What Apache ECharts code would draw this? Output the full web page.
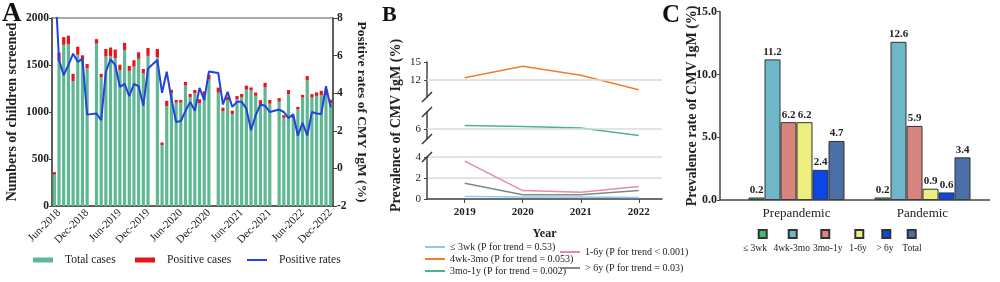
<!DOCTYPE html>
<html>
<head>
<meta charset="utf-8">
<script src="https://cdn.jsdelivr.net/npm/echarts@6/dist/echarts.min.js"></script>
<style>
  html, body { margin: 0; padding: 0; background: #fff; }
  #chart { width: 1000px; height: 282px; }
</style>
</head>
<body>
<div id="chart"></div>
<script>
  // ---- panel A: monthly screening, May-2018 .. Dec-2022 ----
  const monthNames = ['Jan', 'Feb', 'Mar', 'Apr', 'May', 'Jun', 'Jul', 'Aug', 'Sep', 'Oct', 'Nov', 'Dec'];
  const screenYears = [2018, 2019, 2020, 2021, 2022];
  const total2018 = [335, 1546, 1715, 1722, 1328, 1610, 1553, 1465];
  const total2019 = [1728, 1370, 1590, 1593, 1573, 1447, 1660, 1437, 1483, 1566, 1410, 1597];
  const total2020 = [1582, 649, 1064, 1203, 1100, 1100, 1282, 1158, 1199, 1095, 1180, 1345];
  const total2021 = [1206, 1011, 1128, 979, 1135, 1157, 1238, 1230, 1172, 1086, 1262, 1088];
  const total2022 = [1110, 938, 1190, 934, 1027, 1154, 1336, 1154, 1172, 1182, 1178, 1095];
  const pos2018 = [25, 85, 82, 90, 78, 85, 50, 45];
  const pos2019 = [47, 35, 80, 93, 92, 56, 75, 53, 68, 69, 48, 84];
  const pos2020 = [88, 27, 55, 32, 27, 27, 38, 34, 35, 40, 40, 50];
  const pos2021 = [53, 35, 35, 35, 35, 35, 42, 31, 35, 40, 48, 40];
  const pos2022 = [38, 28, 43, 22, 28, 28, 46, 36, 36, 43, 40, 36];
  const rate2018 = [10.6, 5.76, 4.96, 5.49, 6.1, 5.67, 5.83, 2.86];
  const rate2019 = [2.92, 2.56, 5.14, 5.8, 5.49, 4.34, 4.5, 3.84, 4.5, 4.37, 3.33, 5.31];
  const rate2020 = [5.76, 4.02, 5.14, 3.7, 2.47, 2.52, 3.05, 3.54, 3.06, 4.28, 3.63, 5.15];
  const rate2021 = [5.08, 3.4, 4.07, 3.27, 3.54, 3.54, 3.18, 2.03, 2.83, 3.4, 3.33, 3.0];
  const rate2022 = [3.13, 3.0, 2.68, 2.88, 1.74, 2.42, 1.75, 3.0, 2.92, 2.9, 4.37, 3.25];

  const totalByYear = [total2018, total2019, total2020, total2021, total2022];
  const posByYear = [pos2018, pos2019, pos2020, pos2021, pos2022];
  const rateByYear = [rate2018, rate2019, rate2020, rate2021, rate2022];

  // ---- panel B: prevalence by year ----
  const bYears = [2019, 2020, 2021, 2022];
  const bUnder3wk = [0.25, 0.2, 0.2, 0.15];
  const b4wk3mo = [12.4, 14.3, 12.8, 10.4];
  const b3mo1y = [6.35, 6.25, 6.1, 5.35];
  const b1to6y = [3.6, 0.8, 0.65, 1.2];
  const bOver6y = [1.5, 0.4, 0.4, 0.8];

  // ---- panel C: prepandemic vs pandemic ----
  const periods = ['Prepandemic', 'Pandemic'];
  const ageGroups = ['≤ 3wk', '4wk-3mo', '3mo-1y', '1-6y', '> 6y', 'Total'];
  const cValues = [
    [0.2, 0.2],
    [11.2, 12.6],
    [6.2, 5.9],
    [6.2, 0.9],
    [2.4, 0.6],
    [4.7, 3.4]
  ];
  const cColors = ['#38c46b', '#6db7c9', '#d9857f', '#eeee7e', '#0c46e6', '#4b6fa6'];

  // build the A category axis, with an empty slot between years
  const categories = [], totalCases = [], positiveCases = [], positiveRates = [];
  screenYears.forEach((y, k) => {
    if (k > 0) {
      categories.push('gap-' + y);
      totalCases.push(null);
      positiveCases.push(null);
      positiveRates.push(null);
    }
    const start = 12 - totalByYear[k].length;
    for (let m = start; m < 12; m++) categories.push(monthNames[m] + '-' + y);
    totalCases.push(...totalByYear[k]);
    positiveCases.push(...posByYear[k]);
    positiveRates.push(...rateByYear[k]);
  });
  const showMonth = (i, v) => v.startsWith('Jun') || v.startsWith('Dec');
  const plain = v => String(v);

  const ink = '#222';
  const axisDark = { lineStyle: { color: '#444', width: 1.5 } };
  const pair = vals => bYears.map((y, i) => [y, vals[i]]);

  const bNames = [
    '≤ 3wk (P for trend = 0.53)',
    '4wk-3mo (P for trend = 0.053)',
    '3mo-1y (P for trend = 0.002)',
    '1-6y (P for trend < 0.001)',
    '> 6y (P for trend = 0.03)'
  ];
  const bColors = ['#8fc6ee', '#f07f2c', '#4fb28f', '#e98aa7', '#7d8a8a'];
  const bLegendPos = [[425, 242], [425, 254], [425, 266], [560, 247], [560, 263]];
  const cLegendX = [761.7, 791.7, 824.3, 858.3, 885.3, 910.7];
  const cLabelX = [755, 791.7, 827.7, 858, 885, 912];

  const chart = echarts.init(document.getElementById('chart'));

  const bLineBase = {
    type: 'line',
    symbol: 'none',
    lineStyle: { width: 1.5 }
  };

  chart.setOption({
    animation: false,
    textStyle: { fontFamily: 'Liberation Serif' },
    title: [
      { text: 'A', left: 2, top: 1, padding: 0, textStyle: { fontSize: 27, fontWeight: 'bold', color: '#111' } },
      { text: 'B', left: 382, top: 4, padding: 0, textStyle: { fontSize: 22, fontWeight: 'bold', color: '#111' } },
      { text: 'C', left: 662, top: 3, padding: 0, textStyle: { fontSize: 25, fontWeight: 'bold', color: '#111' } }
    ],
    legend: [
      { data: [{ name: 'Total cases', icon: 'rect' }], left: 33, top: 254, padding: 0, itemWidth: 20, itemHeight: 5,
        textStyle: { fontSize: 11.5, color: ink, padding: [0, 0, 0, 7] } },
      { data: [{ name: 'Positive cases', icon: 'rect' }], left: 135, top: 254, padding: 0, itemWidth: 20, itemHeight: 5,
        textStyle: { fontSize: 11.5, color: ink, padding: [0, 0, 0, 7] } },
      { data: [{ name: 'Positive rates', icon: 'rect' }], left: 247, top: 254, padding: 0, itemWidth: 20, itemHeight: 2,
        textStyle: { fontSize: 11.5, color: ink, padding: [0, 0, 0, 7] } },
      ...bNames.map((n, i) => ({
        data: [{ name: n, icon: 'rect' }], left: bLegendPos[i][0], top: bLegendPos[i][1], padding: 0,
        itemWidth: 20, itemHeight: 2, textStyle: { fontSize: 10, color: ink }
      })),
      ...ageGroups.map((n, i) => ({
        data: [{ name: n, icon: 'rect' }], left: cLegendX[i] - 4, top: 229, padding: 0,
        itemWidth: 8, itemHeight: 8, formatter: () => ''
      }))
    ],
    grid: [
      { left: 52, top: 18, width: 281, height: 188, show: true, borderColor: '#555', borderWidth: 1 },
      { left: 427, top: 62, width: 235, height: 35 },
      { left: 427, top: 112, width: 235, height: 27 },
      { left: 427, top: 157, width: 235, height: 42 },
      { left: 733.5, top: 11.7, width: 252, height: 188.3 }
    ],
    xAxis: [
      {
        type: 'category', gridIndex: 0, data: categories,
        axisLine: axisDark,
        axisTick: { interval: showMonth, length: 3, lineStyle: { color: '#444' } },
        axisLabel: { interval: showMonth, rotate: 45, fontSize: 11, color: ink, margin: 5 }
      },
      { type: 'value', gridIndex: 1, min: 2018.35, max: 2022.4, show: false },
      { type: 'value', gridIndex: 2, min: 2018.35, max: 2022.4, show: false },
      {
        type: 'value', gridIndex: 3, min: 2018.35, max: 2022.4,
        name: 'Year', nameLocation: 'middle', nameGap: 29,
        nameTextStyle: { fontSize: 12, fontWeight: 'bold', color: ink },
        axisLine: axisDark,
        axisTick: { customValues: bYears, length: 4, lineStyle: { color: '#444' } },
        axisLabel: { customValues: bYears, formatter: plain, fontSize: 11, fontWeight: 'bold', color: ink, margin: 8 },
        splitLine: { show: false }
      },
      {
        type: 'category', gridIndex: 4, data: periods,
        axisLine: { show: false },
        axisTick: { show: false },
        axisLabel: { fontSize: 13, color: ink, margin: 7 }
      }
    ],
    yAxis: [
      {
        type: 'value', gridIndex: 0, min: 0, max: 2000, interval: 500,
        name: 'Numbers of children screened', nameLocation: 'middle', nameGap: 33,
        nameTextStyle: { fontSize: 14, fontWeight: 'bold', color: ink },
        axisLine: { show: true, lineStyle: { color: '#444', width: 1.5 } },
        axisTick: { show: true, length: 3, lineStyle: { color: '#444' } },
        axisLabel: { formatter: plain, fontSize: 11.5, fontWeight: 'bold', color: ink, margin: 3 },
        splitLine: { show: false }
      },
      {
        type: 'value', gridIndex: 0, position: 'right', min: -2, max: 8, interval: 2,
        name: 'Positive rates of CMY IgM (%)', nameLocation: 'middle', nameGap: 21, nameRotate: -90,
        nameTextStyle: { fontSize: 13.5, fontWeight: 'bold', color: ink },
        axisLine: { show: true, lineStyle: { color: '#444', width: 1.5 } },
        axisTick: { show: true, length: 4, lineStyle: { color: '#444' } },
        axisLabel: { fontSize: 11.5, fontWeight: 'bold', color: ink, margin: 4 },
        splitLine: { show: false }
      },
      {
        type: 'value', gridIndex: 1, min: 9.2, max: 15,
        axisLine: axisDark,
        axisTick: { customValues: [12, 15], length: 3, lineStyle: { color: '#444' } },
        axisLabel: { customValues: [12, 15], fontSize: 11, color: ink, margin: 6 },
        splitLine: { show: false }
      },
      {
        type: 'value', gridIndex: 2, min: 5, max: 7.7,
        name: 'Prevalence of CMV IgM (%)', nameLocation: 'middle', nameGap: 24,
        nameTextStyle: { fontSize: 14, fontWeight: 'bold', color: ink },
        axisLine: axisDark,
        axisTick: { customValues: [6], length: 3, lineStyle: { color: '#444' } },
        axisLabel: { customValues: [6], fontSize: 11, color: ink, margin: 6 },
        splitLine: { show: false }
      },
      {
        type: 'value', gridIndex: 3, min: 0, max: 4, interval: 2,
        axisLine: axisDark,
        axisTick: { show: true, length: 3, lineStyle: { color: '#444' } },
        axisLabel: { fontSize: 11, color: ink, margin: 6 },
        splitLine: { show: true, lineStyle: { color: '#d6dbdb', width: 1.5 } }
      },
      {
        type: 'value', gridIndex: 4, min: 0, max: 15, interval: 5, offset: 13.5,
        name: 'Prevalence rate of CMV IgM (%)', nameLocation: 'middle', nameGap: 21, nameMoveOverlap: false,
        nameTextStyle: { fontSize: 14, fontWeight: 'bold', color: ink },
        axisLine: { show: true, lineStyle: { color: '#444', width: 1.5 } },
        axisTick: { show: true, length: 3, lineStyle: { color: '#444' } },
        axisLabel: { fontSize: 12, fontWeight: 'bold', color: ink, margin: 3, formatter: v => v.toFixed(1) },
        splitLine: { show: false }
      }
    ],
    series: [
      {
        name: 'Total cases', type: 'bar', stack: 'a', xAxisIndex: 0, yAxisIndex: 0,
        data: totalCases, barCategoryGap: '32%', itemStyle: { color: '#5db893' }
      },
      {
        name: 'Positive cases', type: 'bar', stack: 'a', xAxisIndex: 0, yAxisIndex: 0,
        data: positiveCases, itemStyle: { color: '#e8141c' }
      },
      {
        name: 'Positive rates', type: 'line', xAxisIndex: 0, yAxisIndex: 1,
        data: positiveRates, connectNulls: true, symbol: 'none',
        itemStyle: { color: '#2340e0' }, lineStyle: { color: '#2340e0', width: 2 }
      },
      Object.assign({}, bLineBase, {
        name: bNames[0], xAxisIndex: 3, yAxisIndex: 4, data: pair(bUnder3wk), color: bColors[0]
      }),
      Object.assign({}, bLineBase, {
        name: bNames[1], xAxisIndex: 1, yAxisIndex: 2, data: pair(b4wk3mo), color: bColors[1],
        markLine: {
          silent: true, symbol: 'none', label: { show: false },
          lineStyle: { color: '#d6dbdb', type: 'solid', width: 1.5 },
          data: [{ yAxis: 12 }]
        }
      }),
      Object.assign({}, bLineBase, {
        name: bNames[2], xAxisIndex: 2, yAxisIndex: 3, data: pair(b3mo1y), color: bColors[2],
        markLine: {
          silent: true, symbol: 'none', label: { show: false },
          lineStyle: { color: '#d6dbdb', type: 'solid', width: 1.5 },
          data: [{ yAxis: 6 }]
        }
      }),
      Object.assign({}, bLineBase, {
        name: bNames[3], xAxisIndex: 3, yAxisIndex: 4, data: pair(b1to6y), color: bColors[3]
      }),
      Object.assign({}, bLineBase, {
        name: bNames[4], xAxisIndex: 3, yAxisIndex: 4, data: pair(bOver6y), color: bColors[4]
      }),
      ...ageGroups.map((g, i) => ({
        name: g, type: 'bar', xAxisIndex: 4, yAxisIndex: 5,
        data: cValues[i], barWidth: 16, barGap: '0%',
        itemStyle: { color: cColors[i], borderColor: '#333', borderWidth: 1 },
        label: {
          show: true, position: 'top', distance: 2, fontSize: 11, fontWeight: 'bold', color: ink,
          formatter: p => p.value.toFixed(1)
        }
      }))
    ],
    graphic: [
      // break marks on the B axis
      ...[97, 112, 139, 157].map(y => ({
        type: 'line', shape: { x1: 422, y1: y + 5, x2: 432, y2: y - 5 },
        style: { stroke: '#333', lineWidth: 1.5 }, z: 100
      })),
      // C baseline, spanning past the category band
      {
        type: 'line', shape: { x1: 720, y1: 200, x2: 990, y2: 200 },
        style: { stroke: '#444', lineWidth: 1.5 }, z: 100
      },
      ...ageGroups.map((g, i) => ({
        type: 'text', x: cLabelX[i], y: 248,
        style: { text: g, fontSize: 9.5, fontFamily: 'Liberation Serif', fill: ink, textAlign: 'center', textVerticalAlign: 'middle' }
      }))
    ]
  });
</script>
</body>
</html>
